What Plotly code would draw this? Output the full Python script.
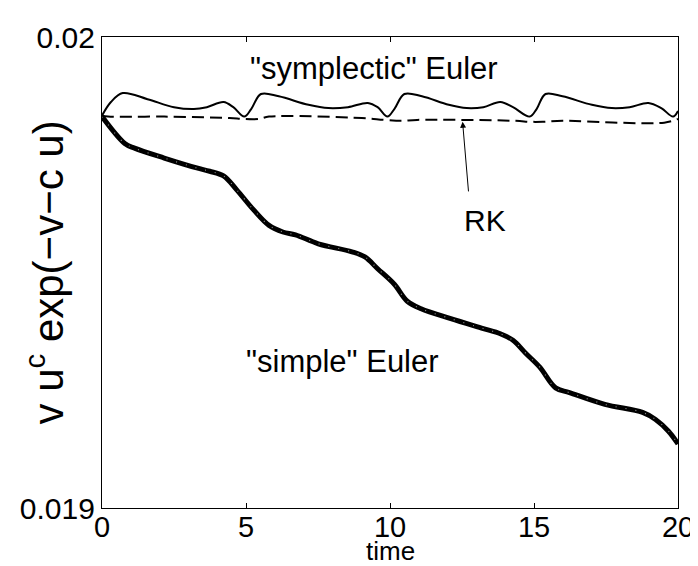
import plotly.graph_objects as go

# "simple" Euler
t_simple = [0.0, 0.79, 1.13, 2.16, 3.29, 3.74, 4.22, 4.67, 5.25, 5.80, 6.28, 6.72,
            7.51, 8.68, 9.13, 9.57, 10.15, 10.60, 11.08, 12.11, 13.24, 13.83, 14.27,
            14.72, 15.20, 15.75, 16.23, 17.46, 18.77, 19.22, 19.67, 20.0]
v_simple = [0.019831, 0.019774, 0.019764, 0.019743, 0.019722, 0.019715, 0.019705,
            0.019676, 0.019634, 0.019600, 0.019586, 0.019580, 0.019561, 0.019544,
            0.019533, 0.019508, 0.019475, 0.019439, 0.019423, 0.019402, 0.019381,
            0.019370, 0.019356, 0.019328, 0.019299, 0.019255, 0.019245, 0.019220,
            0.019203, 0.019188, 0.019163, 0.019136]

# "symplectic" Euler
t_sympl = [0.0, 0.31, 0.72, 1.58, 2.50, 3.19, 3.64, 4.22, 4.56, 4.94, 5.18, 5.52,
           6.14, 7.17, 7.86, 8.54, 9.23, 9.57, 9.91, 10.15, 10.50, 11.11, 12.04,
           12.66, 13.24, 13.83, 14.27, 14.85, 15.09, 15.40, 15.99, 17.01, 17.70,
           18.32, 18.97, 19.42, 19.83, 20.0]
v_sympl = [0.019833, 0.019862, 0.019881, 0.019868, 0.019851, 0.019847, 0.019851,
           0.019862, 0.019851, 0.019831, 0.019847, 0.019879, 0.019874, 0.019856,
           0.019849, 0.019851, 0.019860, 0.019851, 0.019831, 0.019847, 0.019879,
           0.019874, 0.019856, 0.019849, 0.019851, 0.019862, 0.019851, 0.019831,
           0.019847, 0.019879, 0.019874, 0.019856, 0.019849, 0.019851, 0.019860,
           0.019849, 0.019831, 0.019843]

# RK
t_rk = [0.0, 0.21, 2.16, 4.43, 4.91, 5.45, 5.80, 9.02, 9.81, 10.39, 10.94, 14.37,
        14.85, 15.30, 15.99, 19.52, 20.0]
v_rk = [0.019833, 0.019831, 0.019831, 0.019828, 0.019826, 0.019826, 0.019831,
        0.019828, 0.019824, 0.019822, 0.019824, 0.019822, 0.019820, 0.019820,
        0.019822, 0.019818, 0.019826]

x_ticks = [0, 5, 10, 15, 20]
y_ticks = [0.019, 0.02]
y_tick_text = ["0.019", "0.02"]

fig = go.Figure()
fig.add_trace(go.Scatter(x=t_simple, y=v_simple, mode="lines",
                         line=dict(color="black", width=5, shape="spline", smoothing=1.0),
                         hoverinfo="skip"))
fig.add_trace(go.Scatter(x=t_simple, y=v_simple, mode="lines",
                         line=dict(color="rgba(255,255,255,0.55)", width=1.2, dash="1px,9px",
                                   shape="spline", smoothing=1.0),
                         hoverinfo="skip"))
fig.add_trace(go.Scatter(x=t_rk, y=v_rk, mode="lines",
                         line=dict(color="black", width=2, dash="12px,6px",
                                   shape="spline", smoothing=1.0),
                         hoverinfo="skip"))
fig.add_trace(go.Scatter(x=t_sympl, y=v_sympl, mode="lines",
                         line=dict(color="black", width=2, shape="spline", smoothing=1.0),
                         hoverinfo="skip"))

font_main = "Liberation Sans, Arial, Helvetica, sans-serif"
font_narrow = "Liberation Sans Narrow, Arial Narrow, Liberation Sans, Arial, sans-serif"

annotations = [
    dict(x=9.43, y=0.019933, xref="x", yref="y", text='"symplectic" Euler',
         showarrow=False, font=dict(size=31, color="black", family=font_main)),
    dict(x=8.34, y=0.019312, xref="x", yref="y", text='"simple" Euler',
         showarrow=False, font=dict(size=31, color="black", family=font_main)),
    dict(x=12.52, y=0.019820, ax=12.73, ay=0.019669, xref="x", yref="y",
         axref="x", ayref="y", text="", showarrow=True, arrowhead=2,
         arrowsize=1.2, arrowwidth=1, arrowcolor="black"),
    dict(x=13.31, y=0.019610, xref="x", yref="y", text="RK",
         showarrow=False, font=dict(size=30, color="black", family=font_main)),
    dict(x=0, y=0.5, xref="paper", yref="paper", xshift=-57,
         text="v u<sup>c</sup> exp(\u2212v\u2212c u)",
         textangle=-90, showarrow=False, xanchor="center", yanchor="middle",
         font=dict(size=42, color="black", family=font_main)),
    dict(x=0.5, y=0, xref="paper", yref="paper", yshift=-59, text="time",
         showarrow=False, xanchor="center", yanchor="bottom", borderpad=0,
         font=dict(size=26, color="black", family=font_main)),
]

fig.update_layout(
    width=698, height=566,
    margin=dict(l=94, r=21, t=22, b=66),
    paper_bgcolor="white", plot_bgcolor="white",
    showlegend=False,
    annotations=annotations,
)
fig.update_xaxes(range=[0, 20], tickvals=x_ticks, ticks="inside", ticklen=5,
                 tickwidth=1, tickcolor="black", showline=True, linecolor="black",
                 linewidth=1.2, mirror="ticks", showgrid=False, zeroline=False,
                 ticklabelstandoff=-7,
                 tickfont=dict(size=29, color="black", family=font_narrow))
fig.update_yaxes(range=[0.019, 0.02], tickvals=y_ticks, ticktext=y_tick_text,
                 ticks="inside", ticklen=5, tickwidth=1, tickcolor="black",
                 showline=True, linecolor="black", linewidth=1.2, mirror="ticks",
                 showgrid=False, zeroline=False,
                 tickfont=dict(size=30, color="black", family=font_main))

fig.write_html("out.html")
